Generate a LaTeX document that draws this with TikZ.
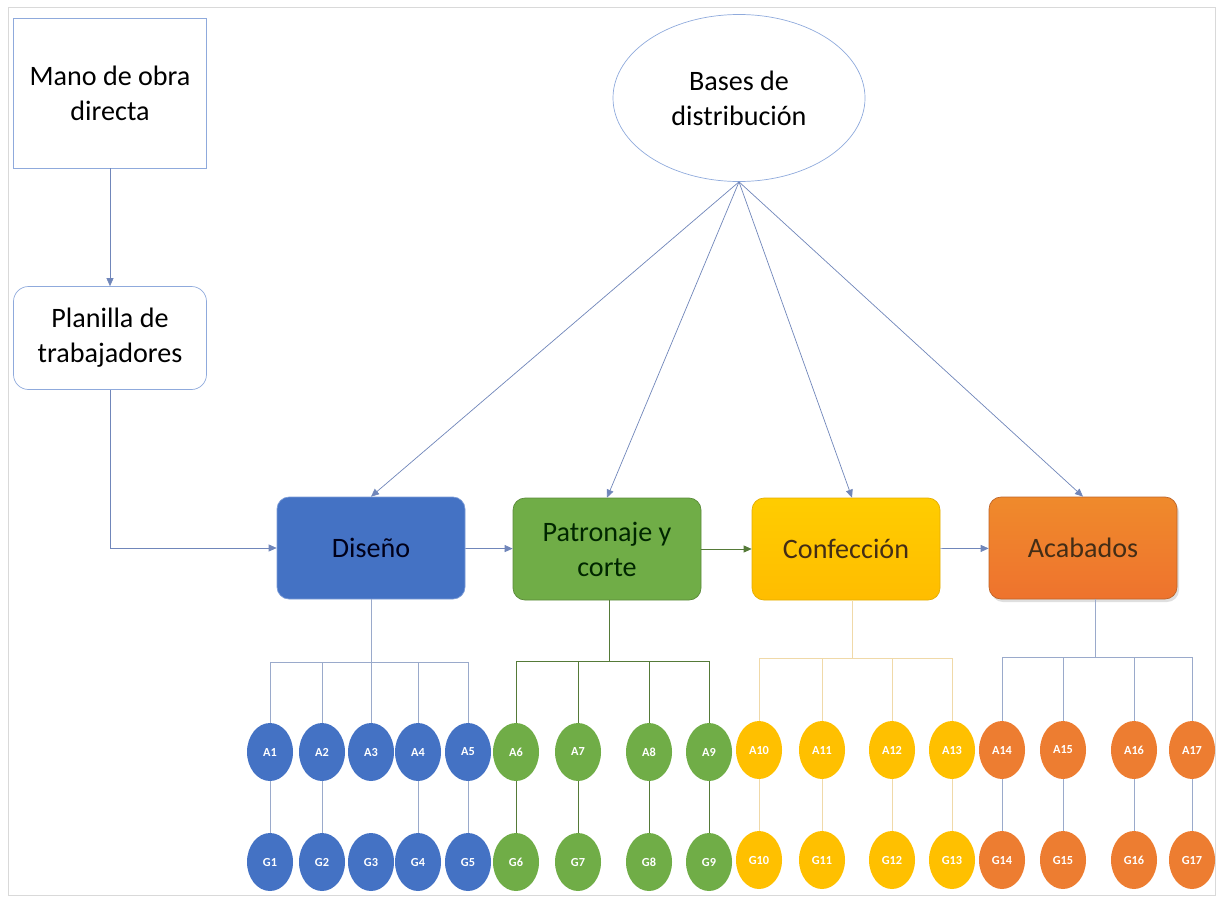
\documentclass[tikz,border=0pt]{standalone}
\usepackage{fontspec}
\setmainfont{Carlito}
\usetikzlibrary{shapes.geometric,arrows.meta,shadows}

\definecolor{disblue}{HTML}{4472C4}
\definecolor{patgreen}{HTML}{70AD47}
\definecolor{confyellow}{HTML}{FFC000}
\definecolor{acaorange}{HTML}{ED7D31}
\definecolor{linkblue}{HTML}{7086BA}
\definecolor{frameblue}{HTML}{8FAADC}
\definecolor{patline}{HTML}{557A38}
\definecolor{confline}{HTML}{F0D9A8}
\definecolor{treeblue}{HTML}{9AAACB}

\tikzset{
  txt/.style={font=\fontsize{16}{20}\selectfont, align=center},
  process/.style={txt, rounded corners=2.4mm, minimum width=3.76cm, minimum height=2.04cm},
  leaf/.style={ellipse, inner sep=0pt, minimum width=0.92cm, minimum height=1.16cm,
    text=white, font=\fontsize{7}{8}\selectfont\bfseries},
  link/.style={draw=linkblue, -{Triangle[length=1.6mm,width=1.4mm]}},
}

\begin{document}
\begin{tikzpicture}[x=0.2mm, y=-0.2mm]
\useasboundingbox (0,0) rectangle (1217,896);
\draw[gray!30] (8,7) rectangle (1215,895);

% Entradas
\node[txt, draw=frameblue, minimum width=3.86cm, minimum height=3cm] (mano) at (110,93) {Mano de obra\\directa};
\node[txt, draw=frameblue, rounded corners=3mm, minimum width=3.86cm, minimum height=2.06cm] (plan) at (110,338) {Planilla de\\trabajadores};
\node[txt, draw=frameblue, ellipse, minimum width=5.04cm, minimum height=3.34cm] (bases) at (739,98) {Bases de\\distribución};

% Procesos
\node[process, fill=disblue, draw=disblue!70, text=blue!10!black] (dis) at (371,548) {Diseño};
\node[process, fill=patgreen, draw=patgreen!80!black, text=green!15!black] (pat) at (607,549) {Patronaje y\\corte};
\node[process, top color=confyellow!80!yellow, bottom color=confyellow!95!orange, draw=confyellow!90!black, text=brown!35!black] (conf) at (846,549) {Confección};
\node[process, top color=acaorange!90!yellow, bottom color=acaorange!92!red, draw=acaorange!80!black, text=brown!35!black, drop shadow={opacity=0.25, shadow xshift=0.4mm, shadow yshift=-0.6mm}] (aca) at (1083,548) {Acabados};

% Flechas
\draw[link] (mano) -- (plan);
\draw[link] (plan.south) |- (dis.west);
\draw[link] (dis) -- (pat);
\draw[link, draw=patline] (pat) -- (conf);
\draw[link] (conf) -- (aca);
\draw[link] (bases.south) -- (dis.north);
\draw[link] (bases.south) -- (pat.north);
\draw[link] (bases.south) -- ([xshift=1.2mm]conf.north);
\draw[link] (bases.south) -- (aca.north);

% Diseño: A1 - A5, G1 - G5
\node[leaf, fill=disblue] (a1) at (270,752) {A1};
\node[leaf, fill=disblue] (a2) at (322,752) {A2};
\node[leaf, fill=disblue] (a3) at (371,752) {A3};
\node[leaf, fill=disblue] (a4) at (418,752) {A4};
\node[leaf, fill=disblue] (a5) at (468,752) {A5};
\node[leaf, fill=disblue] (g1) at (270,862) {G1};
\node[leaf, fill=disblue] (g2) at (322,862) {G2};
\node[leaf, fill=disblue] (g3) at (371,862) {G3};
\node[leaf, fill=disblue] (g4) at (418,862) {G4};
\node[leaf, fill=disblue] (g5) at (468,862) {G5};
\coordinate (disbar) at (371,662);
\draw[treeblue] (dis.south) -- (a3.north);
\draw[treeblue] (a1.north) |- (disbar) -| (a5.north);
\draw[treeblue] (a2.north) -- (a2.north |- disbar);
\draw[treeblue] (a4.north) -- (a4.north |- disbar);
\draw[treeblue] (a1) -- (g1);
\draw[treeblue] (a2) -- (g2);
\draw[treeblue] (a4) -- (g4);
\draw[treeblue] (a5) -- (g5);

% Patronaje y corte: A6 - A9, G6 - G9
\node[leaf, fill=patgreen] (a6) at (516,752) {A6};
\node[leaf, fill=patgreen] (a7) at (578,752) {A7};
\node[leaf, fill=patgreen] (a8) at (649,752) {A8};
\node[leaf, fill=patgreen] (a9) at (709,752) {A9};
\node[leaf, fill=patgreen] (g6) at (516,862) {G6};
\node[leaf, fill=patgreen] (g7) at (578,862) {G7};
\node[leaf, fill=patgreen] (g8) at (649,862) {G8};
\node[leaf, fill=patgreen] (g9) at (709,862) {G9};
\coordinate (patbar) at (609,661);
\draw[patline] (pat.south -| patbar) -- (patbar);
\draw[patline] (a6.north) |- (patbar) -| (a9.north);
\draw[patline] (a7.north) -- (a7.north |- patbar);
\draw[patline] (a8.north) -- (a8.north |- patbar);
\draw[patline] (a6) -- (g6);
\draw[patline] (a7) -- (g7);
\draw[patline] (a8) -- (g8);
\draw[patline] (a9) -- (g9);

% Confección: A10 - A13, G10 - G13
\node[leaf, fill=confyellow] (a10) at (759,750) {A10};
\node[leaf, fill=confyellow] (a11) at (822,750) {A11};
\node[leaf, fill=confyellow] (a12) at (892,750) {A12};
\node[leaf, fill=confyellow] (a13) at (952,750) {A13};
\node[leaf, fill=confyellow] (g10) at (759,860) {G10};
\node[leaf, fill=confyellow] (g11) at (822,860) {G11};
\node[leaf, fill=confyellow] (g12) at (892,860) {G12};
\node[leaf, fill=confyellow] (g13) at (952,860) {G13};
\coordinate (confbar) at (852,658);
\draw[confline] (conf.south -| confbar) -- (confbar);
\draw[confline] (a10.north) |- (confbar) -| (a13.north);
\draw[confline] (a11.north) -- (a11.north |- confbar);
\draw[confline] (a12.north) -- (a12.north |- confbar);
\draw[confline] (a10) -- (g10);
\draw[confline] (a11) -- (g11);
\draw[confline] (a12) -- (g12);
\draw[confline] (a13) -- (g13);

% Acabados: A14 - A17, G14 - G17
\node[leaf, fill=acaorange] (a14) at (1002,750) {A14};
\node[leaf, fill=acaorange] (a15) at (1063,750) {A15};
\node[leaf, fill=acaorange] (a16) at (1134,750) {A16};
\node[leaf, fill=acaorange] (a17) at (1192,750) {A17};
\node[leaf, fill=acaorange] (g14) at (1002,860) {G14};
\node[leaf, fill=acaorange] (g15) at (1063,860) {G15};
\node[leaf, fill=acaorange] (g16) at (1134,860) {G16};
\node[leaf, fill=acaorange] (g17) at (1192,860) {G17};
\coordinate (acabar) at (1095,657);
\draw[treeblue] (aca.south -| acabar) -- (acabar);
\draw[treeblue] (a14.north) |- (acabar) -| (a17.north);
\draw[treeblue] (a15.north) -- (a15.north |- acabar);
\draw[treeblue] (a16.north) -- (a16.north |- acabar);
\draw[treeblue] (a14) -- (g14);
\draw[treeblue] (a15) -- (g15);
\draw[treeblue] (a16) -- (g16);
\draw[treeblue] (a17) -- (g17);

\end{tikzpicture}
\end{document}
